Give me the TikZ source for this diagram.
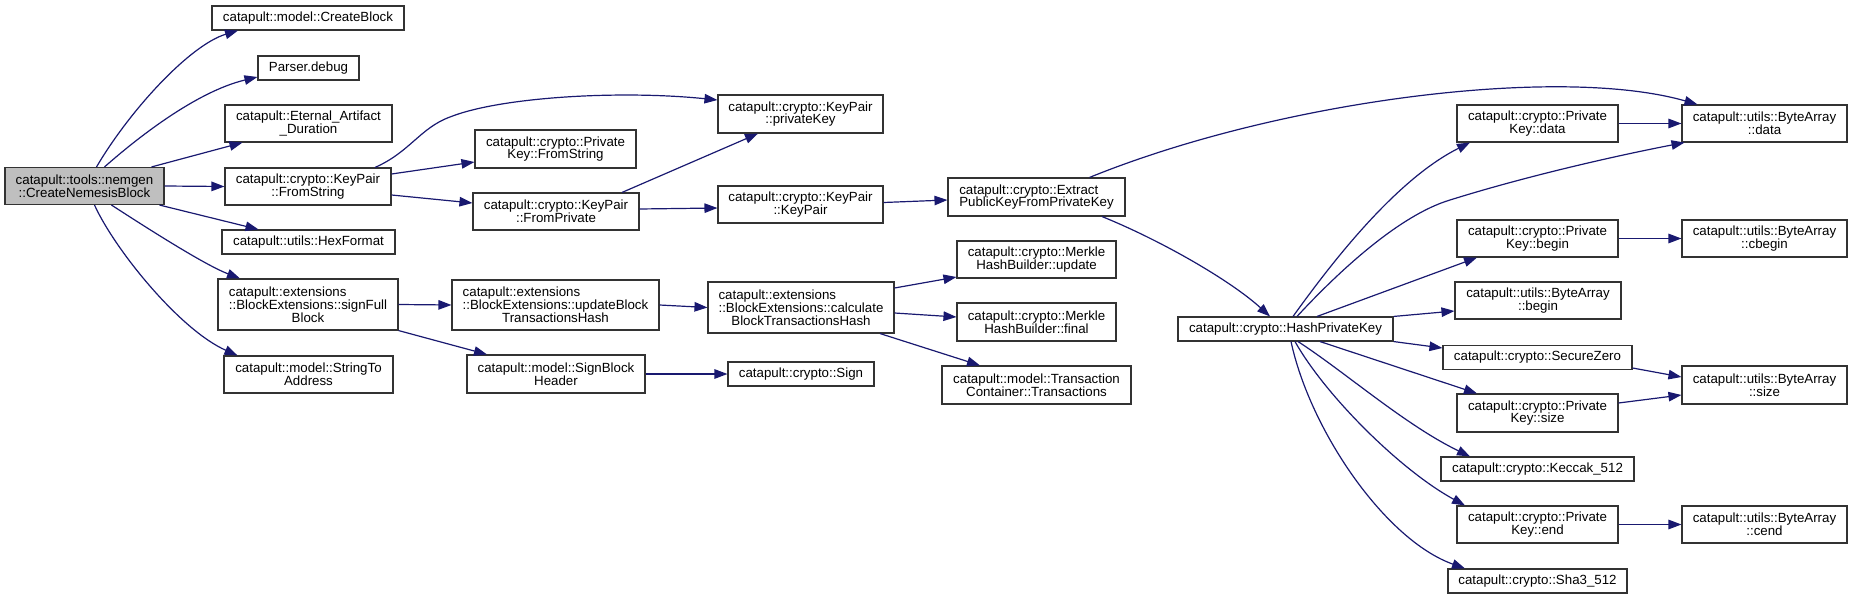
\documentclass[tikz,border=0pt]{standalone}
\usepackage{fontspec}
\setmainfont{Liberation Sans}
\usepackage{calc}
\usetikzlibrary{arrows.meta}
\definecolor{edgecol}{HTML}{191970}
\definecolor{boxline}{HTML}{333333}
\definecolor{mainfill}{HTML}{BFBFBF}
\newcommand\lfirst[2]{\makebox[\widthof{#2}][l]{#1}\\#2}
\tikzset{
  box/.style={draw=boxline, line width=1.1pt, fill=white, rectangle, inner sep=0pt,
    align=center, font=\fontsize{13.3}{12.8}\selectfont},
  mainbox/.style={box, fill=mainfill},
  call/.style={draw=edgecol, line width=1.2pt, -{Triangle[length=13pt,width=9.5pt]}},
}
\begin{document}
\begin{tikzpicture}[x=1pt,y=-1pt]
\useasboundingbox (0,0) rectangle (1852,599);
% column 1
\node[mainbox, minimum width=159pt, minimum height=37pt] (main) at (84.5,186) {catapult::tools::nemgen\\::CreateNemesisBlock};
% column 2
\node[box, minimum width=192pt, minimum height=24pt] (createblock) at (308,18) {catapult::model::CreateBlock};
\node[box, minimum width=101pt, minimum height=24pt] (parser) at (308.5,68) {Parser.debug};
\node[box, minimum width=167pt, minimum height=37pt] (eternal) at (308.5,123.5) {catapult::Eternal\_Artifact\\\_Duration};
\node[box, minimum width=166pt, minimum height=37pt] (fromstring) at (308,186.5) {catapult::crypto::KeyPair\\::FromString};
\node[box, minimum width=173pt, minimum height=24pt] (hexformat) at (308.5,242) {catapult::utils::HexFormat};
\node[box, minimum width=180pt, minimum height=51pt] (signfull) at (308,304.5) {\lfirst{catapult::extensions}{::BlockExtensions::signFull}\\Block};
\node[box, minimum width=169pt, minimum height=37pt] (stringto) at (308.5,374.5) {catapult::model::StringTo\\Address};
% column 3
\node[box, minimum width=161pt, minimum height=38pt] (pkfromstring) at (555.5,149) {catapult::crypto::Private\\Key::FromString};
\node[box, minimum width=166pt, minimum height=37pt] (frompriv) at (556,211.5) {catapult::crypto::KeyPair\\::FromPrivate};
\node[box, minimum width=207pt, minimum height=50pt] (updateblock) at (555.5,305) {\lfirst{catapult::extensions}{::BlockExtensions::updateBlock}\\TransactionsHash};
\node[box, minimum width=178pt, minimum height=38pt] (signheader) at (556,374) {catapult::model::SignBlock\\Header};
% column 4
\node[box, minimum width=165pt, minimum height=38pt] (privkey) at (800.5,114) {catapult::crypto::KeyPair\\::privateKey};
\node[box, minimum width=165pt, minimum height=37pt] (keypair) at (800.5,204.5) {catapult::crypto::KeyPair\\::KeyPair};
\node[box, minimum width=186pt, minimum height=51pt] (calculate) at (801,307.5) {\lfirst{catapult::extensions}{::BlockExtensions::calculate}\\BlockTransactionsHash};
\node[box, minimum width=146pt, minimum height=24pt] (sign) at (801,374) {catapult::crypto::Sign};
% column 5
\node[box, minimum width=177pt, minimum height=38pt] (extract) at (1036.5,197) {\lfirst{catapult::crypto::Extract}{PublicKeyFromPrivateKey}};
\node[box, minimum width=159pt, minimum height=37pt] (mupdate) at (1036.5,259.5) {catapult::crypto::Merkle\\HashBuilder::update};
\node[box, minimum width=159pt, minimum height=38pt] (mfinal) at (1036.5,322) {catapult::crypto::Merkle\\HashBuilder::final};
\node[box, minimum width=189pt, minimum height=38pt] (transactions) at (1036.5,385) {catapult::model::Transaction\\Container::Transactions};
% column 6
\node[box, minimum width=215pt, minimum height=24pt] (hashpk) at (1285.5,329) {catapult::crypto::HashPrivateKey};
% column 7
\node[box, minimum width=161pt, minimum height=37pt] (pkdata) at (1537.5,123.5) {catapult::crypto::Private\\Key::data};
\node[box, minimum width=161pt, minimum height=37pt] (pkbegin) at (1537.5,238.5) {catapult::crypto::Private\\Key::begin};
\node[box, minimum width=166pt, minimum height=37pt] (babegin) at (1538,300.5) {catapult::utils::ByteArray\\::begin};
\node[box, minimum width=189pt, minimum height=24pt] (securezero) at (1537.5,357.5) {catapult::crypto::SecureZero};
\node[box, minimum width=161pt, minimum height=38pt] (pksize) at (1537.5,413) {catapult::crypto::Private\\Key::size};
\node[box, minimum width=193pt, minimum height=24pt] (keccak) at (1537.5,469) {catapult::crypto::Keccak\_512};
\node[box, minimum width=161pt, minimum height=37pt] (pkend) at (1537.5,524.5) {catapult::crypto::Private\\Key::end};
\node[box, minimum width=179pt, minimum height=24pt] (sha3) at (1537.5,581) {catapult::crypto::Sha3\_512};
% column 8
\node[box, minimum width=165pt, minimum height=37pt] (badata) at (1764.5,123.5) {catapult::utils::ByteArray\\::data};
\node[box, minimum width=165pt, minimum height=37pt] (cbegin) at (1764.5,238.5) {catapult::utils::ByteArray\\::cbegin};
\node[box, minimum width=165pt, minimum height=38pt] (basize) at (1764.5,385) {catapult::utils::ByteArray\\::size};
\node[box, minimum width=165pt, minimum height=37pt] (cend) at (1764.5,524.5) {catapult::utils::ByteArray\\::cend};

% edges from main
\draw[call] ([xshift=12pt]main.north) .. controls (130,110) and (190,45) .. ([xshift=-70pt]createblock.south);
\draw[call] ([xshift=20pt]main.north) .. controls (135,140) and (195,92) .. ([yshift=-9pt]parser.west);
\draw[call] ([xshift=67pt]main.north) -- ([xshift=-66pt]eternal.south);
\draw[call] (main.east) -- (fromstring.west);
\draw[call] ([xshift=75pt]main.south) -- ([xshift=-50pt]hexformat.north);
\draw[call] ([xshift=27pt]main.south) .. controls (150,230) and (205,265) .. ([xshift=-68pt]signfull.north);
\draw[call] ([xshift=10pt]main.south) .. controls (115,250) and (180,330) .. ([xshift=-71pt]stringto.north);
% from KeyPair::FromString
\draw[call] ([xshift=67pt]fromstring.north) .. controls (410,152) and (420,128) .. (450,117) .. controls (500,97) and (620,90) .. ([yshift=14pt]privkey.west);
\draw[call] ([yshift=12.5pt]fromstring.east) -- ([yshift=-13pt]pkfromstring.west);
\draw[call] ([yshift=-8.5pt]fromstring.east) -- ([yshift=8.5pt]frompriv.west);
% from FromPrivate
\draw[call] ([xshift=66pt]frompriv.north) -- ([xshift=-42.5pt]privkey.south);
\draw[call] ([yshift=2.5pt]frompriv.east) -- ([yshift=-3.5pt]keypair.west);
% from KeyPair::KeyPair
\draw[call] ([yshift=2pt]keypair.east) -- ([yshift=-3pt]extract.west);
% from Extract
\draw[call] ([xshift=53pt]extract.north) .. controls (1280,100) and (1560,65) .. ([xshift=-67pt]badata.north);
\draw[call] ([xshift=65.5pt]extract.south) .. controls (1160,240) and (1230,280) .. ([xshift=-15.5pt]hashpk.north);
% from HashPrivateKey
\draw[call] ([xshift=7.5pt]hashpk.north) .. controls (1330,265) and (1395,180) .. ([xshift=-67.5pt]pkdata.south);
\draw[call] ([xshift=11.5pt]hashpk.north) .. controls (1340,270) and (1400,215) .. (1450,200) .. controls (1530,175) and (1620,155) .. ([xshift=-80pt]badata.south);
\draw[call] ([xshift=31.5pt]hashpk.north) -- ([xshift=-60.5pt]pkbegin.south);
\draw[call] (hashpk.north east) -- ([yshift=-10.5pt]babegin.west);
\draw[call] (hashpk.south east) -- ([yshift=9.5pt]securezero.west);
\draw[call] ([xshift=34.5pt]hashpk.south) -- ([xshift=-60.5pt]pksize.north);
\draw[call] ([xshift=12.5pt]hashpk.south) .. controls (1345,372) and (1405,425) .. ([xshift=-67.5pt]keccak.north);
\draw[call] ([xshift=9.5pt]hashpk.south) .. controls (1325,395) and (1400,470) .. ([xshift=-72.5pt]pkend.north);
\draw[call] ([xshift=5.5pt]hashpk.south) .. controls (1310,430) and (1385,540) .. ([xshift=-72.5pt]sha3.north);
% right column
\draw[call] (pkdata.east) -- (badata.west);
\draw[call] (pkbegin.east) -- (cbegin.west);
\draw[call] ([yshift=-10.5pt]securezero.east) -- ([yshift=8pt]basize.west);
\draw[call] ([yshift=10pt]pksize.east) -- ([yshift=-10pt]basize.west);
\draw[call] (pkend.east) -- (cend.west);
% signFull chain
\draw[call] (signfull.east) -- (updateblock.west);
\draw[call] (signfull.south east) -- ([xshift=-69pt]signheader.north);
\draw[call] (updateblock.east) -- (calculate.west);
\draw[call] (signheader.east) -- (sign.west);
\draw[call] ([yshift=19.5pt]calculate.east) -- ([yshift=-17.5pt]mupdate.west);
\draw[call] ([yshift=-5.5pt]calculate.east) -- ([yshift=5pt]mfinal.west);
\draw[call] ([xshift=79pt]calculate.south) -- ([xshift=-56.5pt]transactions.north);
\end{tikzpicture}
\end{document}
